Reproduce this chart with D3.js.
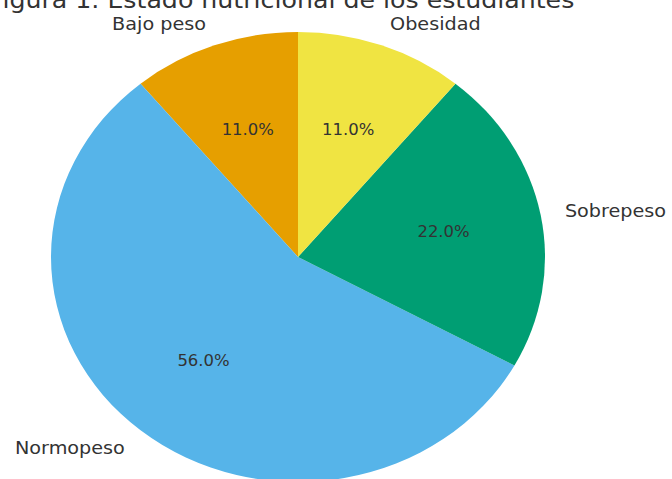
<!DOCTYPE html>
<html>
<head>
<meta charset="utf-8">
<script src="https://cdn.jsdelivr.net/npm/d3@7"></script>
<style>
  body { margin: 0; background: #fff; }
  svg { display: block; }
  text { font-family: "DejaVu Sans", sans-serif; fill: #333; }
</style>
</head>
<body>
<div id="chart"></div>
<script>

var categories = ["Bajo peso", "Normopeso", "Sobrepeso", "Obesidad"];
var values = [11, 56, 22, 11];
var colors = ["#E69F00", "#56B4E9", "#009E73", "#F0E442"];
var title = "Figura 1. Estado nutricional de los estudiantes";

var width = 672;
var height = 479;
var cx = 298, cy = 257;
var radius = 225;
var stretch = 247 / 225;   // picture is a bit wider than tall

var dataset = categories.map(function(c, i) {
  return { label: c, count: values[i], color: colors[i] };
});

var svg = d3.select("#chart")
  .append("svg")
  .attr("width", width)
  .attr("height", height);

// title (cut by top edge in the reference)
svg.append("text")
  .attr("transform", "translate(282,8) scale(" + stretch + ",1)")
  .attr("text-anchor", "middle")
  .attr("font-size", "23px")
  .text(title);

var pie = d3.pie()
  .value(function(d) { return d.count; })
  .sort(null)
  .startAngle(0)
  .endAngle(-2 * Math.PI);

var arcs = pie(dataset);

var arc = d3.arc().innerRadius(0).outerRadius(radius);

var g = svg.append("g")
  .attr("transform", "translate(" + cx + "," + cy + ") scale(" + stretch + ",1)");

g.selectAll("path")
  .data(arcs)
  .enter()
  .append("path")
  .attr("d", arc)
  .attr("fill", function(d) { return d.data.color; });

function pos(d, k) {
  var a = (d.startAngle + d.endAngle) / 2;
  return [cx + Math.sin(a) * radius * k * stretch, cy - Math.cos(a) * radius * k];
}

// percentages
svg.selectAll(".pct")
  .data(arcs)
  .enter()
  .append("text")
  .attr("class", "pct")
  .attr("transform", function(d) {
    var p = pos(d, 0.6);
    return "translate(" + p[0] + "," + p[1] + ") scale(" + stretch + ",1)";
  })
  .attr("text-anchor", "middle")
  .attr("dy", "0.35em")
  .attr("font-size", "15px")
  .text(function(d) { return d.data.count.toFixed(1) + "%"; });

// labels
svg.selectAll(".lbl")
  .data(arcs)
  .enter()
  .append("text")
  .attr("class", "lbl")
  .attr("transform", function(d) {
    var p = pos(d, 1.1);
    return "translate(" + p[0] + "," + p[1] + ") scale(" + stretch + ",1)";
  })
  .attr("text-anchor", function(d) {
    var a = (d.startAngle + d.endAngle) / 2;
    return Math.sin(a) < 0 ? "end" : "start";
  })
  .attr("dy", "0.35em")
  .attr("font-size", "17.5px")
  .text(function(d) { return d.data.label; });

</script>
</body>
</html>
